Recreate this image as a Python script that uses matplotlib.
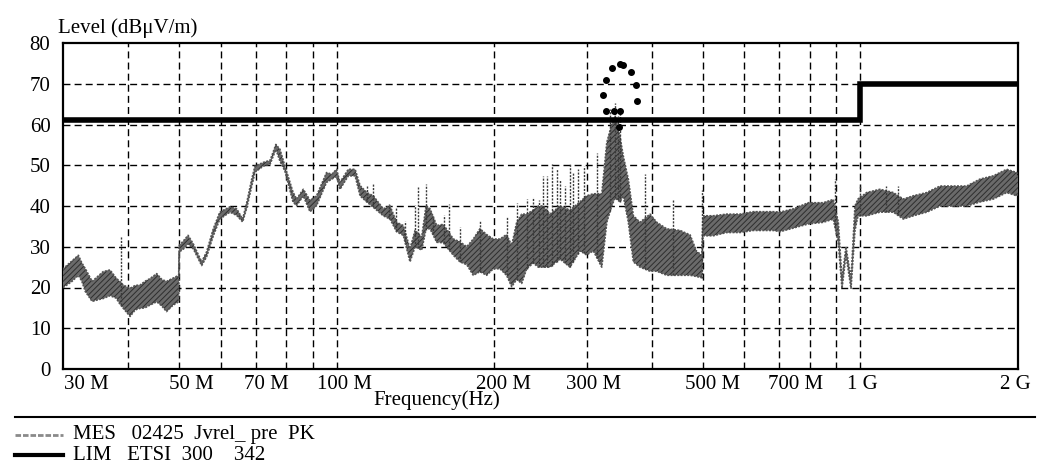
import numpy as np
import matplotlib.pyplot as plt
from matplotlib.ticker import NullLocator
from matplotlib.transforms import offset_copy

plt.rcParams['font.family'] = ['Liberation Serif', 'DejaVu Serif']
plt.rcParams['hatch.linewidth'] = 0.7

# measured trace (MHz, dBuV/m): lower / upper edge of the PK band
mes_freq = [30.0, 30.5, 31.2, 32.1, 32.6, 33.1, 34.1, 35.0, 35.8, 36.9, 37.9, 38.5, 39.1,
            40.3, 41.2, 42.1, 43.0, 44.0, 45.3, 46.3, 47.3, 48.7, 49.9,
            50.0, 51.0, 52.0, 53.2, 55.2, 56.4, 58.1, 59.8, 62.5, 64.4, 66.1, 67.3, 68.8,
            69.8, 72.4, 74.6, 76.5, 77.9, 79.6, 82.5, 83.8, 86.3, 88.9, 91.5, 95.6, 97.8,
            99.9, 101.4, 105.2, 108.4, 110.8, 114.1, 117.4, 122.7, 126.4, 130.1, 134.0,
            138.0, 141.1, 145.3, 148.1, 150.7, 155.2, 159.7, 167.0, 171.9, 177.1, 182.3,
            187.7, 193.3, 199.0, 205.0, 211.0, 215.8, 220.6, 225.5, 230.5, 237.3, 242.6,
            248.0, 255.4, 266.9, 278.9, 291.4, 300.0, 309.0, 320.7, 327.9, 335.0, 340.0,
            347.5, 352.5, 360.5, 368.5, 379.4, 396.6, 408.4, 426.7, 452.5, 472.9, 486.9,
            497.8, 500.5, 523.7, 555.4, 588.9, 624.5, 682.2, 702.6, 744.9, 795.4, 849.5,
            887.7, 907.5, 922.4, 938.7, 959.6, 976.5, 989.5, 1028, 1090, 1156, 1208, 1262,
            1339, 1420, 1505, 1596, 1692, 1794, 1903, 1989, 2000]
mes_high = [24.5, 25.4, 26.5, 27.9, 26.0, 24.6, 21.5, 22.8, 23.9, 24.3, 22.3, 21.5, 20.6,
            19.8, 20.5, 20.6, 21.5, 22.2, 23.4, 22.0, 21.5, 22.3, 23.0,
            30.3, 31.5, 32.8, 30.7, 26.3, 28.7, 34.4, 38.5, 39.8, 39.3, 36.8, 40.8, 46.6,
            49.8, 50.7, 51.2, 55.1, 53.9, 49.8, 43.4, 41.7, 44.1, 41.4, 42.5, 48.2, 47.8,
            49.0, 45.8, 49.0, 49.0, 45.0, 43.3, 42.5, 39.3, 40.0, 36.0, 35.2,
            29.5, 34.0, 32.4, 40.1, 39.3, 35.2, 35.5, 31.9, 31.2, 30.0, 31.9,
            34.4, 33.0, 31.9, 31.9, 33.0, 30.3, 36.0, 38.0, 38.0, 39.0, 40.0,
            40.0, 38.0, 40.0, 39.0, 41.0, 42.5, 43.0, 43.0, 55.6, 60.0, 62.0,
            57.0, 52.3, 46.5, 37.6, 36.0, 38.0, 36.0, 34.4, 34.0, 32.9, 28.8,
            28.0, 37.6, 37.6, 38.0, 38.0, 38.6, 38.6, 38.5, 39.3, 40.8, 40.8,
            41.6, 36.0, 22.0, 30.0, 22.0, 40.0, 41.7, 43.3, 44.1, 43.3, 41.7, 42.5,
            43.3, 44.9, 44.9, 44.9, 46.6, 47.4, 49.0, 48.2, 47.0]
mes_low = [20.0, 20.6, 21.5, 23.0, 21.5, 19.0, 16.6, 17.0, 17.3, 18.0, 17.4, 16.0, 14.9,
           12.9, 14.5, 14.9, 15.0, 15.7, 16.5, 15.5, 14.1, 15.7, 16.5,
           28.7, 29.5, 30.7, 29.5, 25.4, 27.5, 32.7, 36.8, 38.5, 37.7, 36.1, 39.5, 44.9,
           48.3, 49.8, 50.3, 53.9, 51.0, 48.6, 41.0, 40.1, 42.5, 38.6, 40.1, 45.8, 46.6,
           47.3, 44.1, 47.4, 47.4, 42.5, 41.0, 39.7, 37.6, 36.8, 33.7, 32.8,
           26.3, 30.0, 29.2, 34.4, 34.4, 31.1, 31.0, 27.9, 26.3, 25.6, 23.0,
           23.9, 23.0, 24.6, 24.6, 23.0, 20.2, 22.0, 21.0, 24.6, 26.0, 25.0,
           25.0, 25.0, 27.0, 25.0, 29.0, 28.0, 29.0, 25.0, 36.0, 40.0, 42.0,
           41.0, 42.5, 36.0, 26.3, 25.0, 24.0, 24.0, 23.0, 23.0, 23.0, 22.7,
           22.4, 32.7, 32.7, 33.5, 33.5, 34.0, 34.0, 33.7, 34.6, 35.6, 36.0,
           36.8, 30.9, 19.8, 28.0, 19.8, 34.0, 37.6, 37.6, 38.5, 38.5, 36.8, 37.6,
           38.5, 40.0, 40.0, 40.0, 41.0, 41.7, 43.3, 42.5, 43.0]

# single-sweep spikes above the band
spike_freq = [38.7, 114, 117.4, 126, 130, 135, 141, 143, 148, 152.6, 160, 164, 172, 188,
              211, 221, 230.5, 237, 243, 248, 251.7, 257.4, 263, 266.9, 272.7, 278.9,
              282.7, 289, 296, 314, 333, 340, 344, 347, 388, 439, 497.8, 895, 1000,
              1120, 1180]
spike_top = [32.7, 44.9, 45.4, 40.5, 39.4, 36.2, 40.3, 44.6, 45.4, 37.6, 37.8, 40.5, 34.8,
             36.6, 37.4, 40.8, 41.6, 42.2, 41.5, 47.4, 47.4, 50.2, 49.0, 46.5, 45.0, 50.2,
             48.0, 49.0, 49.8, 53.0, 63.7, 65.3, 62.0, 63.0, 47.8, 41.7, 44.0, 46.6, 45.4,
             44.9, 44.9]

# final measurement points
qp_freq = [323, 326, 327, 335, 338, 346, 347, 347.5, 352, 365, 373, 374]
qp_level = [67.3, 63.2, 71.0, 73.8, 63.2, 59.3, 74.9, 63.2, 74.7, 72.9, 69.6, 65.8]

# limit line ETSI 300 342
lim_freq = [30, 1000, 1000, 2000]
lim_level = [61, 61, 70, 70]

grid_freq = [40, 50, 60, 70, 80, 90, 100, 200, 300, 400, 500, 600, 700, 800, 900, 1000]
xtick_freq = [30, 50, 70, 100, 200, 300, 500, 700, 1000, 2000]
xtick_labels = ['30 M', '50 M', '70 M', '100 M', '200 M', '300 M', '500 M', '700 M', '1 G', '2 G']
ytick_levels = list(range(0, 81, 10))

W, H = 1046, 475
fig = plt.figure(figsize=(W / 100, H / 100), dpi=100)
ax = fig.add_axes([63 / W, 1 - 369 / H, 955 / W, 326 / H])
ax.set_xscale('log')
ax.set_xlim(30, 2000)
ax.set_ylim(0, 80)

dash = (0, (5, 3))
for f in grid_freq:
    ax.axvline(f, color='k', lw=1.0, ls=dash, zorder=1)
for y in ytick_levels[1:-1]:
    ax.axhline(y, color='k', lw=1.0, ls=dash, zorder=1)

# PK trace: hatched grey band with speckled edges
ax.fill_between(mes_freq, mes_low, mes_high, facecolor='#6a6a6a', edgecolor='#2e2e2e',
                hatch='//////', lw=0, zorder=3)
ax.plot(mes_freq, mes_high, color='#555555', lw=1.2, ls=(0, (1.2, 0.8)), zorder=3)
ax.plot(mes_freq, mes_low, color='#555555', lw=1.2, ls=(0, (1.2, 0.8)), zorder=3)
base = np.interp(spike_freq, mes_freq, mes_low)
ax.vlines(spike_freq, base, spike_top, colors='#3a3a3a', lw=1.0,
          linestyles=(0, (1.5, 1)), zorder=3)
ax.plot(qp_freq, qp_level, 'o', color='k', ms=4, zorder=6)

# limit
ax.plot(lim_freq, lim_level, color='k', lw=4, solid_joinstyle='miter',
        solid_capstyle='butt', zorder=5)

for s in ax.spines.values():
    s.set_linewidth(1.6)

ax.xaxis.set_major_locator(NullLocator())
ax.xaxis.set_minor_locator(NullLocator())
ax.set_yticks(ytick_levels)
ax.tick_params(axis='y', length=0, pad=9, labelsize=15)

# x labels sit a bit right of their grid line, as in the original
label_dx = [23, 12, 11, 8, 9, 7, 10, 16, 2, -3]
for f, lbl, dx in zip(xtick_freq, xtick_labels, label_dx):
    tr = offset_copy(ax.get_xaxis_transform(), fig=fig, x=dx, y=-6, units='dots')
    ax.text(f, 0, lbl, transform=tr, ha='center', va='top', fontsize=15)

fig.text(437 / W, 1 - 400 / H, 'Frequency(Hz)', ha='center', va='center', fontsize=15)
fig.text(58 / W, 1 - 28 / H, 'Level (dBμV/m)', ha='left', va='center', fontsize=15)

# legend block under the chart
fig.add_artist(plt.Line2D([15 / W, 1035 / W], [1 - 417 / H] * 2, color='k', lw=1.5))
fig.add_artist(plt.Line2D([15 / W, 63 / W], [1 - 435 / H] * 2, color='#8a8a8a', lw=2,
                          ls=(0, (2, 0.7))))
fig.add_artist(plt.Line2D([15 / W, 63 / W], [1 - 455 / H] * 2, color='k', lw=3))
fig.text(73 / W, 1 - 434 / H, 'MES   02425  Jvrel_ pre  PK', ha='left', va='center', fontsize=15)
fig.text(73 / W, 1 - 456 / H, 'LIM   ETSI  300    342', ha='left', va='center', fontsize=15)

fig.savefig('out.png', dpi=100)
